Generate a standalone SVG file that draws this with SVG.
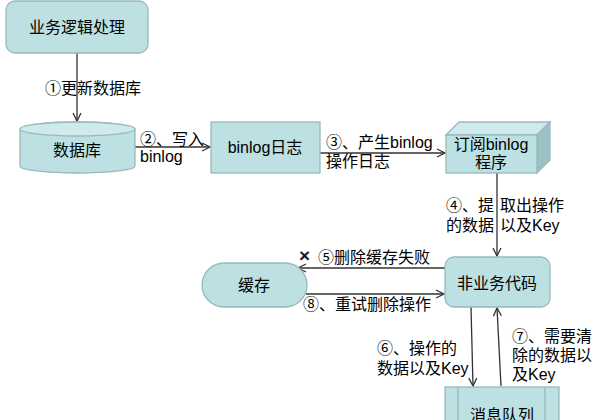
<svg xmlns="http://www.w3.org/2000/svg" width="598" height="420" viewBox="0 0 598 420">
<style>
.n{fill:#bde0e3;stroke:#98b9bc;stroke-width:1.3}
.t{font-family:"Liberation Sans","Noto Sans CJK SC",sans-serif;font-size:16px;fill:#000}
.c{text-anchor:middle}
.e{fill:none;stroke:#333;stroke-width:1.3}
</style>
<defs>
<marker id="ar" markerUnits="userSpaceOnUse" markerWidth="12" markerHeight="12" refX="10" refY="6" orient="auto">
<polyline points="2,2 10,6 2,10" fill="none" stroke="#333" stroke-width="1.3"/>
</marker>
</defs>
<rect width="598" height="420" fill="#fff"/>
<g id="connectors">
<line class="e" x1="77" y1="53" x2="77" y2="121" marker-end="url(#ar)"/>
<line class="e" x1="135" y1="147" x2="210" y2="147" marker-end="url(#ar)"/>
<line class="e" x1="320" y1="153" x2="445" y2="153" marker-end="url(#ar)"/>
<line class="e" x1="497" y1="173" x2="497" y2="256" marker-end="url(#ar)"/>
<line class="e" x1="445" y1="268" x2="298" y2="268" marker-end="url(#ar)"/>
<line class="e" x1="306" y1="294" x2="444" y2="294" marker-end="url(#ar)"/>
<line class="e" x1="471" y1="307" x2="473" y2="386" marker-end="url(#ar)"/>
<line class="e" x1="501" y1="386" x2="497" y2="308" marker-end="url(#ar)"/>
<text class="t" x="45" y="94">①更新数据库</text>
<text class="t" x="140" y="145">②、写入</text>
<text class="t" x="140" y="162">binlog</text>
<text class="t" x="326" y="148">③、产生binlog</text>
<text class="t" x="326" y="167">操作日志</text>
<text class="t" y="211"><tspan x="446">④、提</tspan><tspan x="500">取出操作</tspan></text>
<text class="t" y="231"><tspan x="446">的数据</tspan><tspan x="500">以及Key</tspan></text>
<text class="t" x="299" y="262" style="font-size:19px;font-weight:bold;fill:#1a1a2e">×</text>
<text class="t" x="318" y="263">⑤删除缓存失败</text>
<text class="t" x="303" y="310">⑧、重试删除操作</text>
<text class="t" x="377" y="354">⑥、操作的</text>
<text class="t" x="377" y="374">数据以及Key</text>
<text class="t" x="512" y="342">⑦、需要清</text>
<text class="t" x="512" y="361">除的数据以</text>
<text class="t" x="512" y="380">及Key</text>
</g>
<g id="n1">
<rect class="n" x="6" y="1" width="142" height="52" rx="9"/>
<text class="t c" x="77" y="33">业务逻辑处理</text>
</g>
<g id="db">
<path class="n" d="M20,129 A57.5,7 0 0,1 135,129 V166 A57.5,7 0 0,1 20,166 Z"/>
<ellipse cx="77.5" cy="129" rx="57.5" ry="7" fill="#d0e9ec" stroke="#98b9bc" stroke-width="1.3"/>
<text class="t c" x="77" y="156">数据库</text>
</g>
<g id="binlog">
<rect class="n" x="211" y="122" width="109" height="51"/>
<text class="t c" x="265" y="153">binlog日志</text>
</g>
<g id="sub">
<polygon points="446,135 459,122 550,122 537,135" fill="#d0e9ec" stroke="#98b9bc" stroke-width="1.3"/>
<polygon points="537,135 550,122 550,160 537,173" fill="#9cc1c4" stroke="#98b9bc" stroke-width="1.3"/>
<rect class="n" x="446" y="135" width="91" height="38"/>
<text class="t c" x="491" y="150">订阅binlog</text>
<text class="t c" x="491" y="168">程序</text>
</g>
<g id="nonbiz">
<rect class="n" x="445" y="257" width="105" height="50" rx="9"/>
<text class="t c" x="497" y="289">非业务代码</text>
</g>
<g id="cache">
<rect class="n" x="202" y="263" width="105" height="44" rx="22"/>
<text class="t c" x="254" y="291">缓存</text>
</g>
<g id="mq">
<rect class="n" x="445" y="387" width="114" height="40"/>
<line x1="458" y1="387" x2="458" y2="427" stroke="#98b9bc" stroke-width="1.3"/>
<line x1="545" y1="387" x2="545" y2="427" stroke="#98b9bc" stroke-width="1.3"/>
<text class="t c" x="502" y="421">消息队列</text>
</g>
</svg>
